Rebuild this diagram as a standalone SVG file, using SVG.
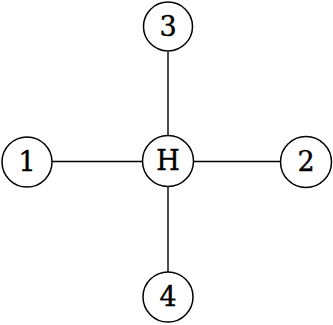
<svg xmlns="http://www.w3.org/2000/svg" width="333" height="325" viewBox="0 0 333 325">
<style>
.n circle{fill:#fff;stroke:#000;stroke-width:1.5}
.n text{font-family:"DejaVu Serif","Liberation Serif",serif;font-size:27px;text-anchor:middle;dominant-baseline:central;fill:#000;stroke:#000;stroke-width:0.4}
.e line{stroke:#000;stroke-width:1.4}
</style>
<rect width="333" height="325" fill="#fff"/>
<g class="e" id="connectors">
<line x1="168" y1="52" x2="168" y2="136"/>
<line x1="52" y1="161.5" x2="143" y2="161.5"/>
<line x1="193" y1="161.5" x2="281" y2="161.5"/>
<line x1="168" y1="186.5" x2="168" y2="272"/>
</g>
<g class="n" id="node3"><circle cx="168" cy="26.5" r="24.5"/><text x="168" y="26">3</text></g>
<g class="n" id="node1"><circle cx="27" cy="162" r="25"/><text x="27" y="161">1</text></g>
<g class="n" id="nodeH"><circle cx="168" cy="161" r="25.5"/><text x="168" y="160.5">H</text></g>
<g class="n" id="node2"><circle cx="306" cy="162" r="25.5"/><text x="306" y="161">2</text></g>
<g class="n" id="node4"><circle cx="168" cy="297" r="25"/><text x="168" y="296.5">4</text></g>
</svg>
